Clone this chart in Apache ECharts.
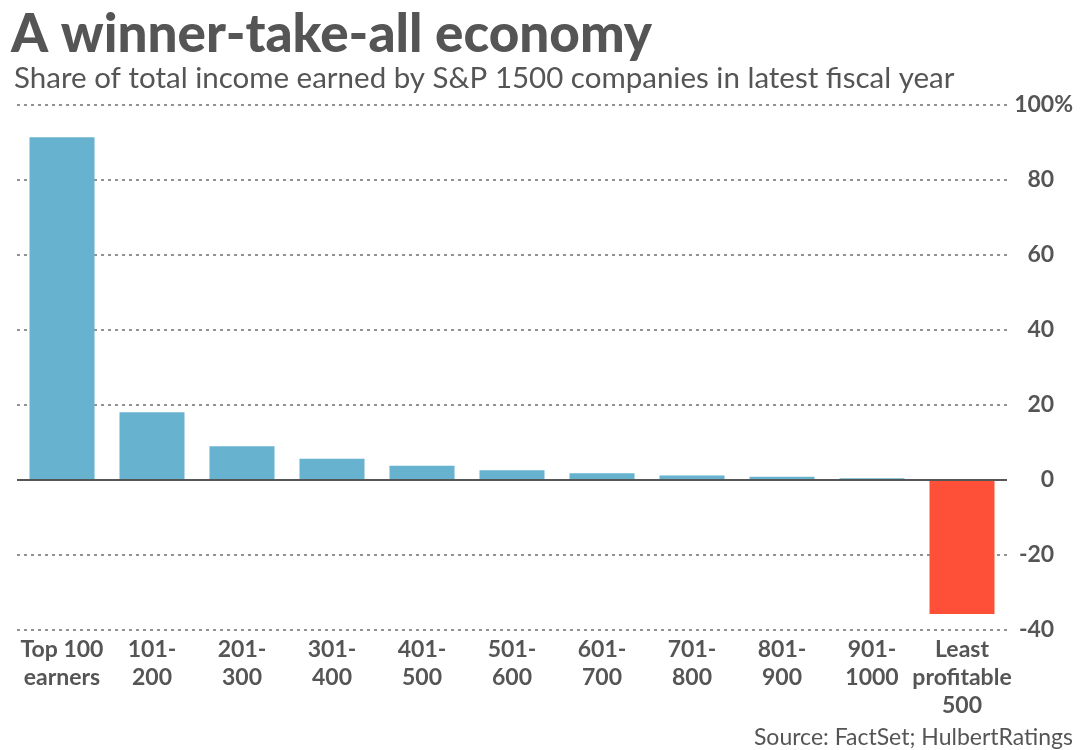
<!DOCTYPE html>
<html>
<head>
<meta charset="utf-8">
<script src="https://cdn.jsdelivr.net/npm/echarts@6/dist/echarts.min.js"></script>
<style>html,body{margin:0;padding:0;background:#fff}#c{width:1080px;height:750px}</style>
</head>
<body>
<div id="c"></div>
<script>
const titleText = 'A winner-take-all economy';
const subtitleText = 'Share of total income earned by S&P 1500 companies in latest fiscal year';
const sourceText = 'Source: FactSet; HulbertRatings';
const categories = ['Top 100\nearners', '101-\n200', '201-\n300', '301-\n400', '401-\n500', '501-\n600', '601-\n700', '701-\n800', '801-\n900', '901-\n1000', 'Least\nprofitable\n500'];
const shares = [91.4, 18.1, 9.0, 5.7, 3.8, 2.6, 1.8, 1.2, 0.9, 0.5, -35.7];
const yTicks = { min: -40, max: 100, interval: 20 };

const BLUE = '#67b2cf', RED = '#fe5039', TXT = '#555555';
const chart = echarts.init(document.getElementById('c'), null, { renderer: 'canvas' });
chart.setOption({
  animation: false,
  backgroundColor: '#ffffff',
  textStyle: { fontFamily: 'Lato' },
  title: [
    { text: titleText, left: 6, top: 3, textStyle: { fontFamily: 'Lato', fontWeight: 900, fontSize: 53, color: TXT } },
    { text: subtitleText, left: 9, top: 58, textStyle: { fontFamily: 'Lato', fontWeight: 'normal', fontSize: 29.5, color: TXT } },
    { text: sourceText, right: 2, bottom: -4, textStyle: { fontFamily: 'Lato', fontWeight: 'normal', fontSize: 23, color: TXT } }
  ],
  grid: { left: 17, right: 73, top: 105, bottom: 120, containLabel: false },
  xAxis: {
    type: 'category',
    data: categories,
    axisLine: { show: false },
    axisTick: { show: false },
    axisLabel: { interval: 0, margin: 6, color: TXT, fontSize: 23, lineHeight: 28, fontFamily: 'Lato', fontWeight: 'bold' }
  },
  yAxis: {
    type: 'value',
    position: 'right',
    min: yTicks.min, max: yTicks.max, interval: yTicks.interval,
    axisLine: { show: false },
    axisTick: { show: false },
    splitLine: { show: true, lineStyle: { color: '#6f6f6f', width: 1.5, type: [3, 4] } },
    axisLabel: {
      margin: 66, align: 'right', color: TXT, fontSize: 23, fontFamily: 'Lato', fontWeight: 'bold',
      formatter: function (v) { return v + (v === yTicks.max ? '{p|%}' : '{h|%}'); },
      rich: {
        p: { color: TXT, fontSize: 23, fontFamily: 'Lato', fontWeight: 'bold' },
        h: { color: 'rgba(0,0,0,0)', fontSize: 23, fontFamily: 'Lato', fontWeight: 'bold' }
      }
    }
  },
  series: [{
    type: 'bar',
    data: shares.map(v => ({ value: v, itemStyle: { color: v < 0 ? RED : BLUE } })),
    barWidth: 65,
    markLine: {
      silent: true, symbol: 'none', label: { show: false },
      lineStyle: { color: '#555555', width: 2, type: 'solid' },
      data: [{ yAxis: 0 }]
    }
  }]
});
</script>
</body>
</html>
